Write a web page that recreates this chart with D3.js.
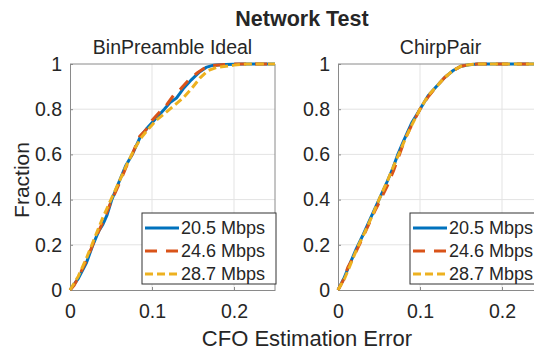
<!DOCTYPE html>
<html lang="en">
<head>
  <meta charset="UTF-8">
  <title>Network Test</title>
  <script src="https://d3js.org/d3.v7.min.js"></script>
  <style>
    body { margin: 0; background: #fff; }
    text { font-family: "Liberation Sans", Arial, sans-serif; fill: #262626; }
  </style>
</head>
<body>
  <div id="chart"></div>
  <script>
    // series names and colours
    var seriesNames = ["20.5 Mbps", "24.6 Mbps", "28.7 Mbps"];
    var seriesColors = ["#0072BD", "#D95319", "#EDB120"];
    var seriesDash = [null, "12,9", "8,4"];

    var xTicks = [0, 0.1, 0.2];
    var yTicks = [0, 0.2, 0.4, 0.6, 0.8, 1];

    // CDF points [error, fraction] for BinPreamble Ideal
    var binBlue = [[0,0],[0.01,0.05],[0.02,0.12],[0.028,0.2],[0.035,0.26],[0.04,0.29],[0.045,0.33],[0.051,0.4],[0.06,0.48],[0.068,0.55],[0.076,0.6],[0.086,0.68],[0.095,0.72],[0.105,0.76],[0.115,0.8],[0.122,0.83],[0.13,0.85],[0.138,0.89],[0.148,0.93],[0.158,0.965],[0.166,0.985],[0.175,0.995],[0.19,0.998],[0.21,1],[0.25,1]];
    var binOrange = [[0,0],[0.005,0.02],[0.012,0.07],[0.02,0.13],[0.03,0.22],[0.04,0.3],[0.05,0.39],[0.06,0.47],[0.068,0.54],[0.077,0.61],[0.085,0.68],[0.093,0.71],[0.1,0.75],[0.11,0.79],[0.118,0.82],[0.126,0.86],[0.135,0.89],[0.145,0.93],[0.155,0.96],[0.163,0.98],[0.172,0.993],[0.185,0.997],[0.2,1],[0.25,1]];
    var binYellow = [[0,0],[0.01,0.06],[0.02,0.14],[0.03,0.23],[0.04,0.32],[0.05,0.4],[0.06,0.48],[0.07,0.56],[0.078,0.62],[0.086,0.67],[0.095,0.71],[0.105,0.75],[0.115,0.78],[0.125,0.81],[0.138,0.85],[0.148,0.89],[0.159,0.94],[0.168,0.97],[0.179,0.985],[0.19,0.99],[0.2,0.995],[0.215,1],[0.25,1]];

    // CDF points for ChirpPair
    var chirpBlue = [[0,0],[0.007,0.05],[0.015,0.12],[0.022,0.18],[0.03,0.24],[0.04,0.32],[0.05,0.4],[0.06,0.48],[0.067,0.54],[0.073,0.6],[0.08,0.66],[0.09,0.74],[0.1,0.8],[0.11,0.86],[0.12,0.9],[0.13,0.94],[0.14,0.97],[0.15,0.99],[0.16,0.997],[0.17,1],[0.25,1]];
    var chirpOrange = [[0,0],[0.006,0.04],[0.012,0.1],[0.018,0.14],[0.026,0.2],[0.035,0.27],[0.045,0.35],[0.052,0.4],[0.06,0.46],[0.068,0.53],[0.075,0.6],[0.082,0.67],[0.09,0.73],[0.1,0.8],[0.11,0.855],[0.12,0.9],[0.13,0.94],[0.14,0.97],[0.15,0.99],[0.16,0.997],[0.17,1],[0.25,1]];
    var chirpYellow = [[0,0],[0.008,0.05],[0.016,0.12],[0.024,0.19],[0.032,0.25],[0.042,0.33],[0.05,0.4],[0.06,0.48],[0.068,0.55],[0.074,0.6],[0.081,0.66],[0.09,0.73],[0.1,0.8],[0.11,0.86],[0.12,0.9],[0.13,0.94],[0.14,0.97],[0.15,0.99],[0.162,0.998],[0.172,1],[0.25,1]];

    var panels = [
      { title: "BinPreamble Ideal", left: 70, data: [binBlue, binOrange, binYellow] },
      { title: "ChirpPair", left: 338, data: [chirpBlue, chirpOrange, chirpYellow] }
    ];

    var width = 534, height = 351;
    var plotTop = 64, plotBottom = 290, plotW = 205;

    var svg = d3.select("#chart").append("svg")
      .attr("width", width).attr("height", height);

    svg.append("text")
      .attr("x", 302).attr("y", 26)
      .attr("text-anchor", "middle")
      .style("font-size", "21.5px").style("font-weight", "bold")
      .text("Network Test");

    svg.append("text")
      .attr("x", 307).attr("y", 346)
      .attr("text-anchor", "middle")
      .style("font-size", "22px")
      .text("CFO Estimation Error");

    svg.append("text")
      .attr("transform", "translate(29,180) rotate(-90)")
      .attr("text-anchor", "middle")
      .style("font-size", "21px")
      .text("Fraction");

    panels.forEach(function (p, pi) {
      var x = d3.scaleLinear().domain([0, 0.25]).range([p.left, p.left + plotW]);
      var y = d3.scaleLinear().domain([0, 1]).range([plotBottom, plotTop]);
      var g = svg.append("g");

      // grid
      g.selectAll(".gx").data(xTicks.slice(1)).enter().append("line")
        .attr("x1", d => x(d)).attr("x2", d => x(d))
        .attr("y1", plotTop).attr("y2", plotBottom)
        .attr("stroke", "#e3e3e3").attr("stroke-width", 1);
      g.selectAll(".gy").data(yTicks.slice(1, -1)).enter().append("line")
        .attr("x1", p.left).attr("x2", p.left + plotW)
        .attr("y1", d => y(d)).attr("y2", d => y(d))
        .attr("stroke", "#e3e3e3").attr("stroke-width", 1);

      // axes
      var xAxis = d3.axisBottom(x).tickValues(xTicks).tickSizeInner(-3).tickSizeOuter(0)
        .tickPadding(9).tickFormat(d3.format("~g"));
      var yAxis = d3.axisLeft(y).tickValues(yTicks).tickSizeInner(-3).tickSizeOuter(0)
        .tickPadding(8).tickFormat(d3.format("~g"));
      var gx = g.append("g").attr("transform", "translate(0," + plotBottom + ")").call(xAxis);
      var gy = g.append("g").attr("transform", "translate(" + p.left + ",0)").call(yAxis);
      [gx, gy].forEach(function (a) {
        a.select(".domain").attr("stroke", "#8a8a8a");
        a.selectAll(".tick line").attr("stroke", "#8a8a8a");
        a.selectAll(".tick text").style("font-size", "19.5px").attr("fill", "#262626")
          .style("font-family", "'Liberation Sans', Arial, sans-serif");
      });
      gx.selectAll(".tick text").attr("dy", "0.95em");

      // top and right box edges
      g.append("line").attr("x1", p.left).attr("x2", p.left + plotW)
        .attr("y1", plotTop).attr("y2", plotTop).attr("stroke", "#8a8a8a");
      g.append("line").attr("x1", p.left + plotW).attr("x2", p.left + plotW)
        .attr("y1", plotTop).attr("y2", plotBottom).attr("stroke", "#8a8a8a");

      g.append("text")
        .attr("x", p.left + plotW / 2).attr("y", 54)
        .attr("text-anchor", "middle")
        .style("font-size", "19.5px")
        .text(p.title);

      var line = d3.line().x(d => x(d[0])).y(d => y(d[1]));
      p.data.forEach(function (s, i) {
        g.append("path").datum(s)
          .attr("d", line)
          .attr("fill", "none")
          .attr("stroke", seriesColors[i])
          .attr("stroke-width", 3)
          .attr("stroke-dasharray", seriesDash[i]);
      });

      // legend
      var lx = pi === 0 ? 142 : 410;
      var lw = pi === 0 ? 134 : 140;
      var lg = g.append("g");
      lg.append("rect").attr("x", lx).attr("y", 213).attr("width", lw).attr("height", 71)
        .attr("fill", "#fff").attr("stroke", "#333").attr("stroke-width", 1);
      seriesNames.forEach(function (name, i) {
        var ry = 228 + i * 23;
        lg.append("line").attr("x1", lx + 3).attr("x2", lx + 37)
          .attr("y1", ry).attr("y2", ry)
          .attr("stroke", seriesColors[i]).attr("stroke-width", 3)
          .attr("stroke-dasharray", seriesDash[i]);
        lg.append("text").attr("x", lx + 39).attr("y", ry + 6)
          .style("font-size", "18px").text(name);
      });
    });
  </script>
</body>
</html>
